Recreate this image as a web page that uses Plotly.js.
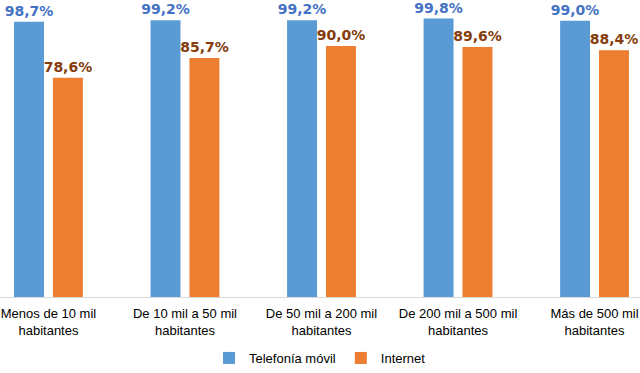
<!DOCTYPE html>
<html>
<head>
<meta charset="utf-8">
<script src="https://cdn.plot.ly/plotly-3.0.1.min.js"></script>
<style>html,body{margin:0;padding:0;background:#fff;}#chart{width:640px;height:373px;}</style>
</head>
<body>
<div id="chart"></div>
<script>
const categories = ["Menos de 10 mil<br>habitantes", "De 10 mil a 50 mil<br>habitantes", "De 50 mil a 200 mil<br>habitantes", "De 200 mil a 500 mil<br>habitantes", "Más de 500 mil<br>habitantes"];
const telefoniaMovil = [98.7, 99.2, 99.2, 99.8, 99.0];
const internet = [78.6, 85.7, 90.0, 89.6, 88.4];
const seriesNames = ["Telefonía móvil", "Internet"];

const fmt = v => v.toFixed(1).replace('.', ',') + '%';

const traces = [
  {
    type: 'bar', name: seriesNames[0], x: categories, y: telefoniaMovil,
    marker: {color: '#5B9BD5'},
    text: telefoniaMovil.map(fmt), textposition: 'outside', cliponaxis: false, constraintext: 'none',
    textfont: {family: 'DejaVu Sans', size: 14, color: '#4472C4', weight: 'bold'},
    hoverinfo: 'none'
  },
  {
    type: 'bar', name: seriesNames[1], x: categories, y: internet,
    marker: {color: '#ED7D31'},
    text: internet.map(fmt), textposition: 'outside', cliponaxis: false, constraintext: 'none',
    textfont: {family: 'DejaVu Sans', size: 14, color: '#843C0C', weight: 'bold'},
    hoverinfo: 'none'
  }
];

const layout = {
  width: 640, height: 373,
  margin: {l: 0, r: 0, t: 18, b: 76, autoexpand: false},
  paper_bgcolor: '#fff', plot_bgcolor: '#fff',
  barmode: 'group', bargap: 0.43, bargroupgap: 0.23,
  font: {family: 'Liberation Sans', size: 13, color: '#000'},
  xaxis: {
    type: 'category', range: [-0.355, 4.333],
    showline: true, linecolor: '#D9D9D9', linewidth: 1,
    ticks: '', ticklabelstandoff: 4, showgrid: false,
    tickfont: {family: 'Liberation Sans', size: 13, color: '#000'},
    automargin: false
  },
  yaxis: {range: [0, 100], visible: false, showgrid: false, zeroline: false},
  showlegend: true,
  legend: {orientation: 'h', x: 0.5, xanchor: 'center', y: -0.2724, yanchor: 'bottom',
    font: {family: 'Liberation Sans', size: 13, color: '#000'}, itemwidth: 30},
  uniformtext: {mode: false}
};

Plotly.newPlot('chart', traces, layout, {displayModeBar: false, staticPlot: true});
</script>
</body>
</html>
